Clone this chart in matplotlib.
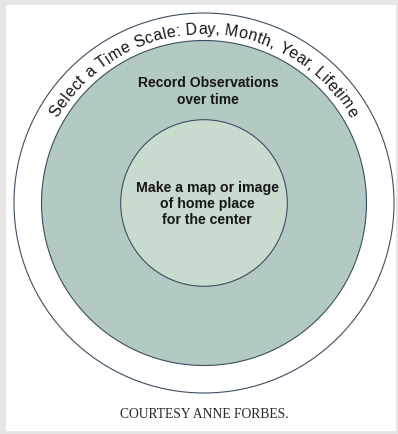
import matplotlib
matplotlib.use("Agg")
import matplotlib.pyplot as plt
from matplotlib.patches import Circle, Rectangle
from matplotlib.font_manager import FontProperties
import numpy as np

W, H = 398, 434
DPI = 100

# diagram content
ring_radii = [190, 162.5, 83.3]          # outer, middle, inner (px)
ring_colors = ["#ffffff", "#b3c9c4", "#c9dbcf"]
ring_label = "Select a Time Scale: Day, Month, Year, Lifetime"
middle_label = "Record Observations\nover time"
inner_label = "Make a map or image\nof home place\nfor the center"
caption = "COURTESY ANNE FORBES."

CX, CY = 204, 203
EDGE = "#3e4e60"
TEXT = "#161616"

fig = plt.figure(figsize=(W / DPI, H / DPI), dpi=DPI)
fig.patch.set_facecolor("#e6e6e6")
ax = fig.add_axes([0, 0, 1, 1])
ax.set_xlim(0, W)
ax.set_ylim(H, 0)
ax.set_aspect("auto")
ax.axis("off")

# white page inside the grey frame
ax.add_patch(Rectangle((6, 5), 390, 426, facecolor="white", edgecolor="none"))

# concentric rings
for r, c in zip(ring_radii, ring_colors):
    ax.add_patch(Circle((CX, CY), r, facecolor=c, edgecolor=EDGE, linewidth=0.8))

# centre texts
ax.text(CX + 4, 91.5, middle_label, ha="center", va="center", fontsize=10,
        fontweight="bold", family="Liberation Sans", color=TEXT, linespacing=1.2)
ax.text(CX + 3, 204, inner_label, ha="center", va="center", fontsize=10.2,
        fontweight="bold", family="Liberation Sans", color=TEXT, linespacing=1.22)

# curved label along the outer ring
prop = FontProperties(family="Liberation Sans", size=11.5)
renderer = fig.canvas.get_renderer()


def advance(s):
    w_pad, _, _ = renderer.get_text_width_height_descent("x" + s + "x", prop, ismath=False)
    w_xx, _, _ = renderer.get_text_width_height_descent("xx", prop, ismath=False)
    return w_pad - w_xx


total = advance(ring_label)
start_ang, end_ang = 150.0, 30.0
R_base = 169
for i, ch in enumerate(ring_label):
    if ch == " ":
        continue
    mid = (advance(ring_label[:i]) + advance(ring_label[:i + 1])) / 2
    ang = start_ang - (start_ang - end_ang) * mid / total
    t = np.radians(ang)
    x = CX + R_base * np.cos(t)
    y = CY - R_base * np.sin(t)
    ax.text(x, y, ch, fontproperties=prop, color=TEXT, ha="center", va="baseline",
            rotation=ang - 90, rotation_mode="anchor")

# caption
ax.text(CX, 414, caption, ha="center", va="center", fontsize=9.8,
        family="Liberation Serif", color="#2a2a2a")

fig.savefig("out.png", dpi=DPI, facecolor=fig.get_facecolor())
